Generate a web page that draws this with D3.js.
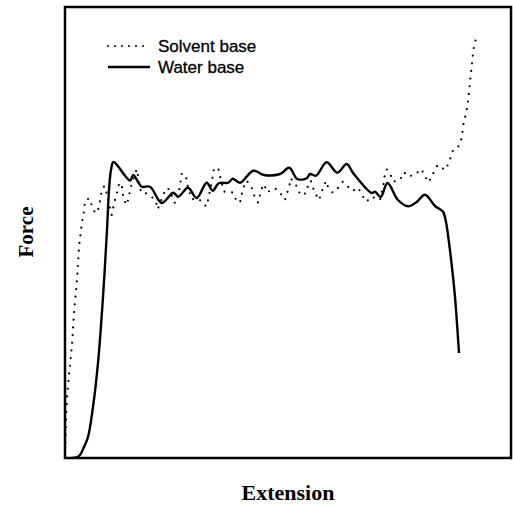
<!DOCTYPE html>
<html>
<head>
<meta charset="utf-8">
<script src="https://cdn.jsdelivr.net/npm/d3@7"></script>
<style>
  body { margin: 0; background: #fff; }
  svg { display: block; }
</style>
</head>
<body>
<script>
// readings in arbitrary units (no ticks on the original)
const solventExt = [0,0.5,1,2,4.5,7,9,12,14,16,17,18.3,20,24.3,26.7,30,32.3,34.3,36.7,39.3,41.7,46.7,48.3,50,52.3,54,56.7,58.3,61.7,64,65,69,71.7,73.3,76,81,86,91,92.7,101,104.3,110,114.3,116.7,121,121.7,126.7,131.7,138,141,143.3,147.7,149,153.3,155,159,163.3,168.3,171,175,177.7,181.7,186.7,189,193,196.7,199.3,201.7,210,215,220,222.3,224.3,225.7,233.3,235,241,242.7,245.7,250,254.3,256,259,261,263.3,267.7,273.3,277.7,282.3,287.7,293.3,296.7,301.7,305.7,311,315,316.7,318.3,319.3,321.7,325,328.3,335,339,343.3,351,356,360,362.7,366.7,369.3,372.7,380,383.3,386,388.3,394,396.7,398.3,401,402.3,403.3,404.3,405.7,406.7,407.3,408.3,409.3,411.7];
const solventForce = [0,18,38,61,88,113,145,178,211,228,236,241.3,257.3,259.7,253,245.3,245.3,253,267.3,272,264.7,243,250.7,258,266.3,274,274.7,259.7,253,261.3,268,281.3,288.7,280.7,265.3,264.7,262,256.3,248.7,269.7,268.7,254.7,268.7,284,283,275.3,258.7,259.7,256,251.3,258.7,281.3,289.7,289.7,282,266.3,266.3,265.3,258,255.3,268.7,277.3,270.3,263,255.3,269.7,273.7,265.7,269.7,265.3,258,265.3,272,279.7,269.7,263,264.7,271.3,277.3,264.7,258,264.7,272,277,270.3,265.3,270.3,276.3,272,267,270.3,263,256.3,261.3,259.7,258,265.3,273,280.7,288.7,284.7,276.3,278,285.7,281.3,284,289,283,275.7,280.3,287.3,293,288,294,301.3,308.7,312,319.7,333,344.7,352,359.7,368,383,390.7,398.7,406.3,414,421.3];

const waterExt = [7,12,15,19,23,28,33,38,42,44,46,48.5,65,68.3,76.7,85,96.7,108.3,113.3,123,131.7,141.7,147.7,153.7,163.3,167.7,175,188.3,199,215,224.3,232.3,241.7,245,251,261.7,272.3,281.7,288.3,306.7,310,315.7,322.5,333,343.3,351.7,360,370,378,381,383,386.5,390,394];
const waterForce = [0,1,3,11,21,51,95,161,228,268,288,296,277.5,283,271.3,271.3,255,265.3,261.3,270.3,260,275.3,267.3,274.7,275.3,279.3,275.3,287.3,283,284,290.3,279,279.7,284,282.3,295.7,285.3,294,284.7,265,266.3,261,275,258,251.7,256,263.3,252,246.3,236,223,195,161,105];

const seriesNames = ["Solvent base", "Water base"];
const xTitle = "Extension";
const yTitle = "Force";

const W = 513, H = 505;
const m = {top: 7, right: 2, bottom: 47, left: 65};

const svg = d3.select("body").append("svg")
  .attr("width", W)
  .attr("height", H);

const x = d3.scaleLinear().domain([0, 446]).range([m.left, W - m.right]);
const y = d3.scaleLinear().domain([0, 451]).range([H - m.bottom, m.top]);

const solvent = solventExt.map((d, i) => [d, solventForce[i]]);
const water = waterExt.map((d, i) => [d, waterForce[i]]);

const line = d3.line()
  .x(d => x(d[0]))
  .y(d => y(d[1]));

svg.append("path")
  .datum(solvent)
  .attr("d", line)
  .attr("fill", "none")
  .attr("stroke", "#000")
  .attr("stroke-width", 2.2)
  .attr("stroke-linecap", "round")
  .attr("stroke-dasharray", "0,7.7");

svg.append("path")
  .datum(water)
  .attr("d", line.curve(d3.curveCatmullRom))
  .attr("fill", "none")
  .attr("stroke", "#000")
  .attr("stroke-width", 2.4)
  .attr("stroke-linejoin", "round");

// frame
svg.append("rect")
  .attr("x", x(0))
  .attr("y", y(451))
  .attr("width", x(446) - x(0))
  .attr("height", y(0) - y(451))
  .attr("fill", "none")
  .attr("stroke", "#000")
  .attr("stroke-width", 2.5);

// legend
const legend = svg.selectAll(".legend")
  .data(seriesNames)
  .enter().append("g")
  .attr("class", "legend")
  .attr("transform", (d, i) => "translate(108," + (46 + i * 21) + ")");

legend.append("line")
  .attr("x1", 0)
  .attr("x2", 42)
  .attr("stroke", "#000")
  .attr("stroke-width", (d, i) => i ? 2.4 : 2)
  .attr("stroke-linecap", (d, i) => i ? "butt" : "round")
  .attr("stroke-dasharray", (d, i) => i ? null : "0,7");

legend.append("text")
  .attr("x", 50)
  .attr("y", 5.5)
  .style("font-family", "Liberation Sans, Arial, sans-serif")
  .style("font-size", "17px")
  .style("stroke", "#000")
  .style("stroke-width", 0.3)
  .text(d => d);

svg.append("text")
  .attr("x", (x(0) + x(446)) / 2)
  .attr("y", 500)
  .attr("text-anchor", "middle")
  .style("font-family", "Liberation Serif, Times New Roman, serif")
  .style("font-weight", "bold")
  .style("font-size", "22px")
  .text(xTitle);

svg.append("text")
  .attr("transform", "translate(33,232) rotate(-90)")
  .attr("text-anchor", "middle")
  .style("font-family", "Liberation Serif, Times New Roman, serif")
  .style("font-weight", "bold")
  .style("font-size", "21px")
  .text(yTitle);
</script>
</body>
</html>
